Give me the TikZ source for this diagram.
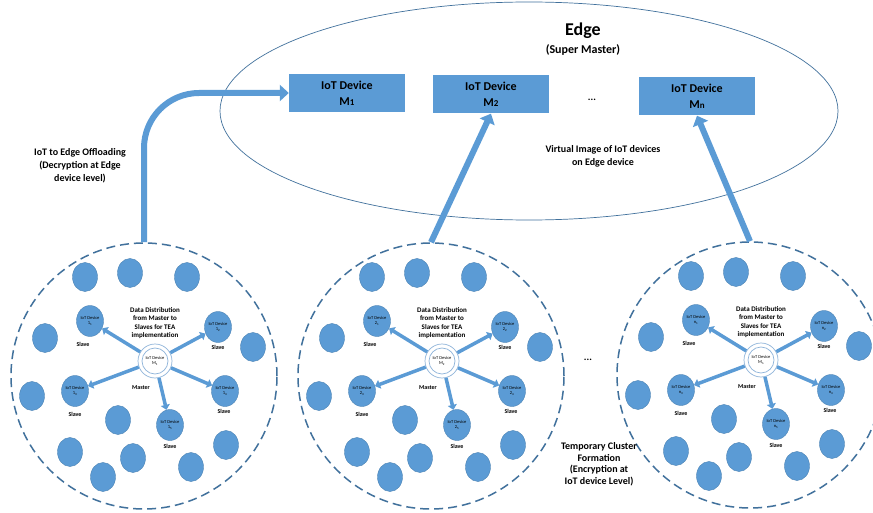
\documentclass[tikz,border=0pt]{standalone}
\usepackage{fontspec}
\setmainfont{Carlito}
\usetikzlibrary{shapes.geometric,arrows.meta}
\definecolor{ofblue}{HTML}{5B9BD5}
\definecolor{ofdark}{HTML}{41719C}
\definecolor{ringblue}{HTML}{8FB4DA}
\tikzset{
  blob/.style={ellipse, fill=ofblue, draw=ofblue!85!black, line width=0.4pt,
    minimum width=25pt, minimum height=29pt, inner sep=0pt},
  slavenode/.style={blob, minimum width=27pt, minimum height=31pt,
    font=\fontsize{4.5}{5}\selectfont, align=center, text=black},
  masternode/.style={circle, draw=ringblue, fill=white, line width=0.7pt,
    minimum size=34pt, inner sep=0pt, font=\fontsize{4.5}{5}\selectfont, align=center},
  smallcap/.style={font=\bfseries\fontsize{6}{7}\selectfont},
  datatext/.style={font=\bfseries\fontsize{7}{8.5}\selectfont, align=center},
  spoke/.style={draw=ofblue, line width=3.5pt, -{Triangle[width=9pt,length=5pt]}},
  clusterring/.style={circle, draw=ofdark, line width=1.5pt,
    dash pattern=on 9pt off 5pt, minimum size=266pt, inner sep=0pt},
  bigarrow/.style={draw=ofblue, line width=6pt, -{Triangle[width=16pt,length=9pt]}},
  devbox/.style={rectangle, fill=ofblue, minimum width=116pt, minimum height=38pt,
    font=\bfseries\fontsize{12}{16}\selectfont, align=center, inner sep=0pt},
  lbl/.style={font=\bfseries\fontsize{10}{13}\selectfont, align=center},
  cluster/.pic={
    \node[clusterring] (-c) at (0,0) {};
    \foreach \x/\y [count=\i] in {-59/-99,-14/-103,43/-99,-99/-38,109/-29,-112/20,
        -26/44,-74/76,-11/82,-41/101,47/91,82/69}
      \node[blob] (-b\i) at (\x,\y) {};
    \node[masternode] (-m) at (11,-15) {IoT Device\\M\textsubscript{#1}};
    \draw[draw=ringblue, line width=0.7pt] (-m.center) circle (13pt);
    \node[smallcap] (-ml) at (-3,12) {Master};
    \node[datatext] (-dt) at (11,-53) {Data Distribution\\from Master to\\Slaves for TEA\\implementation};
    \foreach \x/\y/\lx/\ly [count=\i] in {-54/-55/-61/-32, 74/-49/74/-29, -69/15/-69/38,
        81/15/80/35, 26/49/26/70}
    {
      \node[slavenode] (-s\i) at (\x,\y) {IoT Device\\#1\textsubscript{\i}};
      \node[smallcap] (-sl\i) at (\lx,\ly) {Slave};
      \draw[spoke] (-m) -- (-s\i);
    }
  }
}
\begin{document}
\begin{tikzpicture}[x=1pt,y=-1pt]
  \clip (0,0) rectangle (873,513);
  \fill[white] (0,0) rectangle (873,513);
  % edge ellipse
  \node[ellipse, draw=ofdark, line width=0.7pt, minimum width=618pt,
    minimum height=218pt, inner sep=0pt] (edge) at (529,111) {};
  \node[font=\bfseries\fontsize{18}{20}\selectfont] (edgetitle) at (583,31) {Edge};
  \node[font=\bfseries\fontsize{12}{14}\selectfont] (supm) at (583,50) {(Super Master)};
  \node[devbox] (M1) at (347,93) {IoT Device\\M{\fontsize{9}{9}\selectfont 1}};
  \node[devbox] (M2) at (491,94.5) {IoT Device\\M{\fontsize{9}{9}\selectfont 2}};
  \node[devbox] (Mn) at (697,96.5) {IoT Device\\M{\fontsize{9}{9}\selectfont n}};
  \node[lbl] (dotstop) at (592,100) {...};
  \node[lbl] (virt) at (603,156) {Virtual Image of IoT devices\\on Edge device};
  \node[lbl] (offl) at (80,166) {IoT to Edge Offloading\\(Decryption at Edge\\device level)};
  % clusters
  \pic (L) at (144,376) {cluster=1};
  \pic (C) at (431,376) {cluster=2};
  \pic (R) at (750,375) {cluster=n};
  \node[lbl] (dotsmid) at (588,360) {...};
  \node[lbl, font=\bfseries\fontsize{10}{11.5}\selectfont] (temp) at (599,464)
    {Temporary Cluster\\Formation\\(Encryption at\\IoT device Level)};
  % big arrows
  \draw[bigarrow, rounded corners=55pt] (L-c.north) |- (M1.west);
  \draw[bigarrow] (C-c.north) -- (M2.south);
  \draw[bigarrow] (R-c.north) -- (Mn.south);
\end{tikzpicture}
\end{document}
